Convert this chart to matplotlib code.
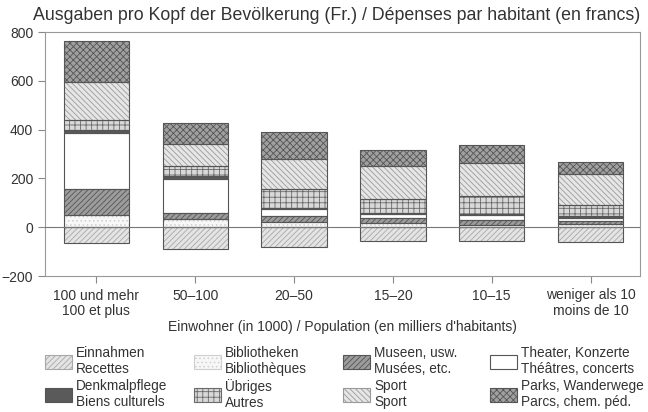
import matplotlib
matplotlib.use("Agg")
import matplotlib.pyplot as plt
from matplotlib.patches import Patch
import numpy as np

plt.rcParams['font.family'] = ['Liberation Sans', 'DejaVu Sans']
plt.rcParams['hatch.linewidth'] = 0.6

categories = ["100 und mehr\n100 et plus", "50–100", "20–50", "15–20", "10–15", "weniger als 10\nmoins de 10"]

# stacked expenditure components (Fr. per inhabitant), bottom to top
bibliotheken = [48, 34, 20, 16, 10, 14]
museen       = [108, 23, 27, 22, 20, 12]
theater      = [229, 142, 28, 16, 22, 10]
denkmal      = [14, 11, 4, 5, 4, 10]
uebriges     = [41, 40, 77, 55, 70, 46]
sport        = [157, 92, 124, 135, 139, 124]
parks        = [166, 84, 112, 68, 70, 52]
# revenues (negative)
einnahmen    = [-63, -88, -80, -57, -58, -60]

series = [
    ("Bibliotheken\nBibliothèques", bibliotheken, "#f7f7f7", "#cfcfcf", "...."),
    ("Museen, usw.\nMusées, etc.", museen, "#9c9c9c", "#555555", "//////"),
    ("Theater, Konzerte\nThéâtres, concerts", theater, "white", "white", None),
    ("Denkmalpflege\nBiens culturels", denkmal, "#5a5a5a", "#3a3a3a", None),
    ("Übriges\nAutres", uebriges, "#d8d8d8", "#6a6a6a", "+++"),
    ("Sport\nSport", sport, "#e6e6e6", "#9a9a9a", "\\\\\\\\\\\\"),
    ("Parks, Wanderwege\nParcs, chem. péd.", parks, "#a0a0a0", "#555555", "xxxxx"),
]
ein_style = ("Einnahmen\nRecettes", einnahmen, "#e4e4e4", "#a8a8a8", "//////")

fig = plt.figure(figsize=(6.48, 4.12), dpi=100)
ax = fig.add_axes([45/648, 1-276/412, (640-45)/648, (276-32)/412])

x = np.arange(len(categories))
w = 0.66
bottom = np.zeros(len(categories))
handles = {}
for label, vals, fc, hc, hatch in series:
    vals = np.array(vals, dtype=float)
    ax.bar(x, vals, w, bottom=bottom, color=fc, edgecolor=hc, hatch=hatch, linewidth=0, zorder=2)
    ax.bar(x, vals, w, bottom=bottom, fill=False, edgecolor="#555555", linewidth=0.8, zorder=3)
    bottom += vals
    handles[label] = Patch(facecolor=fc, edgecolor=(hc if hatch else "#555555"), hatch=hatch,
                           linewidth=0.8, label=label)

label, vals, fc, hc, hatch = ein_style
ax.bar(x, vals, w, color=fc, edgecolor=hc, hatch=hatch, linewidth=0, zorder=2)
ax.bar(x, vals, w, fill=False, edgecolor="#555555", linewidth=0.8, zorder=3)
handles[label] = Patch(facecolor=fc, edgecolor=hc, hatch=hatch, linewidth=0.8, label=label)

ax.axhline(0, color="#777777", linewidth=0.8, zorder=4)

ax.set_ylim(-200, 800)
ax.set_xlim(-0.52, 5.5)
ax.set_yticks([-200, 0, 200, 400, 600, 800])
ax.set_xticks(x)
ax.set_xticklabels(categories, fontsize=10, color="#333333", linespacing=1.1)
ax.tick_params(axis="y", labelsize=10, colors="#333333", length=5, width=0.8, color="#888888")
ax.tick_params(axis="x", length=5, width=0.8, color="#888888", pad=4)
for s in ax.spines.values():
    s.set_color("#999999")
    s.set_linewidth(0.8)
ax.set_xlabel("Einwohner (in 1000) / Population (en milliers d'habitants)", fontsize=10,
              color="#333333", labelpad=2)

fig.text(0.52, 0.962, "Ausgaben pro Kopf der Bevölkerung (Fr.) / Dépenses par habitant (en francs)",
         ha="center", va="center", fontsize=12.8, color="#333333")

columns = [["Einnahmen\nRecettes", "Denkmalpflege\nBiens culturels"],
           ["Bibliotheken\nBibliothèques", "Übriges\nAutres"],
           ["Museen, usw.\nMusées, etc.", "Sport\nSport"],
           ["Theater, Konzerte\nThéâtres, concerts", "Parks, Wanderwege\nParcs, chem. péd."]]
col_x = [45, 194, 343, 490]
for cx, labels in zip(col_x, columns):
    leg = fig.legend([handles[k] for k in labels], labels, loc="upper left",
                     bbox_to_anchor=(cx/648, 1-346/412), frameon=False, fontsize=9.8,
                     handlelength=2.0, handleheight=1.2, handletextpad=0.3,
                     labelspacing=0.25, borderaxespad=0, borderpad=0)
    for t in leg.get_texts():
        t.set_color("#333333")
        t.set_linespacing(1.15)

fig.savefig("out.png", dpi=100)
